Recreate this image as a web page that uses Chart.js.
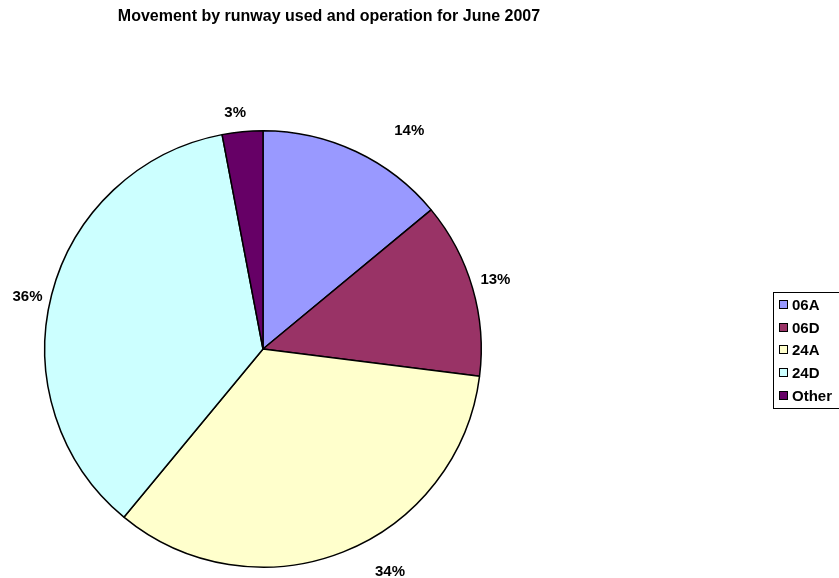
<!DOCTYPE html>
<html lang="en">
<head>
<meta charset="UTF-8">
<title>Runway movements June 2007</title>
<script src="https://cdn.jsdelivr.net/npm/chart.js"></script>
<style>
  html, body { margin: 0; padding: 0; background: #fff; }
  canvas { display: block; }
</style>
</head>
<body>
<canvas id="runways" width="839" height="578"></canvas>
<script>
const titleText = "Movement by runway used and operation for June 2007";
const runways = ["06A", "06D", "24A", "24D", "Other"];
const shares = [14, 13, 34, 36, 3];
const colours = ["#9999FF", "#993366", "#FFFFCC", "#CCFFFF", "#660066"];

const FONT = "Arial, 'Liberation Sans', sans-serif";

// chart title, drawn by hand so it doesn't push the pie around
const titlePlugin = {
    id: "sheetTitle",
    afterDraw(chart) {
        const ctx = chart.ctx;
        ctx.save();
        ctx.font = "bold 16px " + FONT;
        ctx.fillStyle = "#000";
        ctx.textAlign = "center";
        ctx.textBaseline = "middle";
        ctx.fillText(titleText, 329, 17);
        ctx.restore();
    }
};

// percentage labels outside each slice
const pctPlugin = {
    id: "pctLabels",
    afterDatasetsDraw(chart, args, opts) {
        const ctx = chart.ctx;
        const meta = chart.getDatasetMeta(0);
        const total = shares.reduce((a, b) => a + b, 0);
        ctx.save();
        ctx.font = "bold 15px " + FONT;
        ctx.fillStyle = "#000";
        ctx.textAlign = "center";
        ctx.textBaseline = "middle";
        meta.data.forEach((arc, i) => {
            const p = arc.getProps(["x", "y", "startAngle", "endAngle", "outerRadius"], true);
            const mid = (p.startAngle + p.endAngle) / 2;
            const txt = Math.round(shares[i] / total * 100) + "%";
            const hw = ctx.measureText(txt).width / 2;
            const hh = 7.5;
            const c = Math.cos(mid), s = Math.sin(mid);
            const r = p.outerRadius + opts.gap;
            const nudge = opts.nudge[i] || [0, 0];
            const x = p.x + r * c + hw * c + nudge[0];
            const y = p.y + r * s + hh * s + nudge[1];
            ctx.fillText(txt, x, y);
        });
        ctx.restore();
    }
};

// boxed legend on the right, clipped by the canvas edge
const legendPlugin = {
    id: "boxLegend",
    afterDraw(chart) {
        const ctx = chart.ctx;
        const left = 773, top = 292, rowH = 22.7;
        ctx.save();
        ctx.strokeStyle = "#000";
        ctx.lineWidth = 1;
        ctx.strokeRect(left + 0.5, top + 0.5, 90, Math.round(rowH * runways.length) + 2);
        ctx.font = "bold 15px " + FONT;
        ctx.textBaseline = "middle";
        runways.forEach((name, i) => {
            const cy = Math.round(top + 13 + i * rowH);
            ctx.fillStyle = colours[i];
            ctx.fillRect(779.5, cy - 4.5, 8, 8);
            ctx.strokeRect(779.5, cy - 4.5, 8, 8);
            ctx.fillStyle = "#000";
            ctx.fillText(name, 792, cy + 0.5);
        });
        ctx.restore();
    }
};

new Chart(document.getElementById("runways"), {
    type: "pie",
    data: {
        labels: runways,
        datasets: [{
            data: shares,
            backgroundColor: colours,
            borderColor: "#000",
            borderWidth: 1.5
        }]
    },
    options: {
        responsive: false,
        animation: false,
        layout: { padding: { left: 44, right: 357, top: 130, bottom: 10 } },
        plugins: {
            legend: { display: false },
            title: { display: false },
            tooltip: { enabled: false },
            pctLabels: {
                gap: 14,
                nudge: [[41, -1], [-5, -2], [36, 0], [4, 7], [-5, 3]]
            }
        }
    },
    plugins: [titlePlugin, pctPlugin, legendPlugin]
});
</script>
</body>
</html>
